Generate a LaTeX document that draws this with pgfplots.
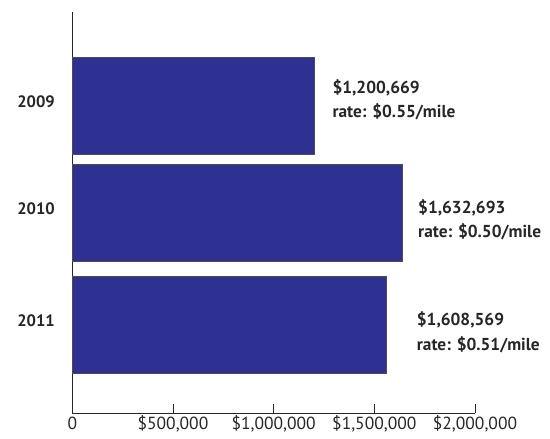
\documentclass[border=0pt]{standalone}
\usepackage{fontspec}
\setmainfont{PT Sans}
\usepackage{pgfplots}
\pgfplotsset{compat=1.18}
\definecolor{barblue}{HTML}{2E3192}
\begin{document}
\begin{tikzpicture}
\begin{axis}[
  at={(0,0)}, anchor=south west,
  scale only axis,
  width=402.7pt, height=401pt,
  xbar, bar width=97pt,
  xmin=0, xmax=2000000,
  ymin=0.146, ymax=3.808,
  y dir=reverse,
  axis lines=left,
  axis line style={-, line width=0.9pt, black!85},
  xtick={0,500000,1000000,1500000,2000000},
  xticklabels={0,{\$500,000},{\$1,000,000},{\$1,500,000},{\$2,000,000}},
  tick align=inside,
  major tick length=9pt,
  xtick style={line width=0.9pt, black!85},
  xticklabel style={font=\fontsize{17.5}{17.5}\selectfont, anchor=base, inner sep=0pt, yshift=-16.3pt, text=black!85},
  ytick={1,1.977,3},
  yticklabels={2009,2010,2011},
  ytick style={draw=none},
  yticklabel style={font=\bfseries\fontsize{16.5}{16.5}\selectfont, anchor=base east, inner sep=0pt, xshift=-17.3pt, yshift=-1.5pt, text=black!85},
  clip=false,
]
\addplot[fill=barblue, draw=black!70, line width=0.6pt] coordinates {
  (1204000,1) (1637000,1.977) (1558000,3)
};
\begin{scope}[every node/.style={anchor=base west, inner sep=0pt, text=black!85, font=\bfseries\fontsize{17.3}{17.3}\selectfont}]
\node at (axis cs:1291300,0.8886) {\$1,200,669};
\node at (axis cs:1291300,1.1114) {rate: \$0.55/mile};
\node at (axis cs:1716900,1.9845) {\$1,632,693};
\node at (axis cs:1716900,2.2073) {rate: \$0.50/mile};
\node at (axis cs:1710400,3.0046) {\$1,608,569};
\node at (axis cs:1710400,3.2329) {rate: \$0.51/mile};
\end{scope}
\end{axis}
\pgfresetboundingbox
\path (-72.3pt,-26pt) rectangle (477.7pt,413pt);
\end{tikzpicture}
\end{document}
